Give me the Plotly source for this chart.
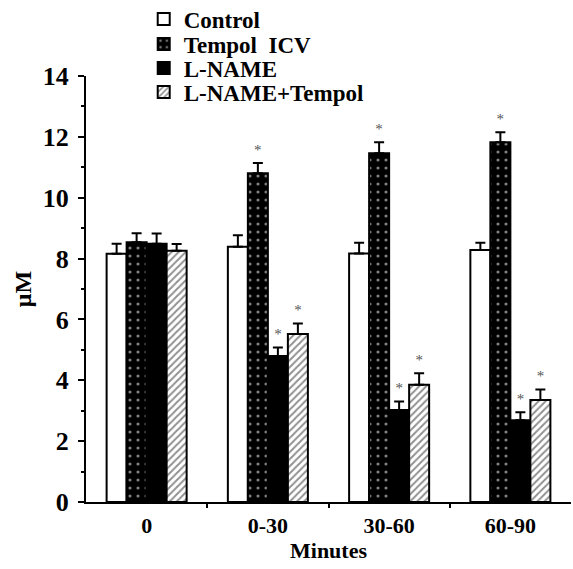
import plotly.graph_objects as go

# ---- data ----
groups = ["0", "0-30", "30-60", "60-90"]
series_names = ["Control", "Tempol  ICV", "L-NAME", "L-NAME+Tempol"]

control = [8.16, 8.39, 8.17, 8.28]
control_err = [0.33, 0.38, 0.35, 0.24]
tempol = [8.54, 10.80, 11.46, 11.82]
tempol_err = [0.29, 0.34, 0.36, 0.33]
lname = [8.49, 4.80, 3.02, 2.69]
lname_err = [0.33, 0.28, 0.28, 0.26]
lname_tempol = [8.26, 5.52, 3.85, 3.35]
lname_tempol_err = [0.22, 0.35, 0.38, 0.35]

control_sig = [False, False, False, False]
tempol_sig = [False, True, True, True]
lname_sig = [False, True, True, True]
lname_tempol_sig = [False, True, True, True]

y_ticks = [0, 2, 4, 6, 8, 10, 12, 14]

# ---- styling ----
FONT = "Liberation Serif"
xpos = list(range(len(groups)))
BAR_W = 0.165
GROUP_LEFT = -0.33
STAR_LIFT = 0.15  # small gap between error cap and star (data units)

styles = [
    dict(color="white", line=dict(color="black", width=2)),
    dict(color="black", line=dict(color="black", width=2),
         pattern=dict(shape=".", fgcolor="white", bgcolor="black", size=8, solidity=0.12)),
    dict(color="black", line=dict(color="black", width=2)),
    dict(color="white", line=dict(color="black", width=2),
         pattern=dict(shape="/", fgcolor="#222222", bgcolor="white", size=5, solidity=0.4)),
]

values = [control, tempol, lname, lname_tempol]
errors = [control_err, tempol_err, lname_err, lname_tempol_err]
sigs = [control_sig, tempol_sig, lname_sig, lname_tempol_sig]
legend_ids = ["legend", "legend2", "legend3", "legend4"]

fig = go.Figure()
for i, (name, vals, errs, st, lg) in enumerate(zip(series_names, values, errors, styles, legend_ids)):
    off = GROUP_LEFT + i * BAR_W
    fig.add_trace(go.Bar(
        x=xpos, y=vals, name=name, width=BAR_W, offset=off,
        marker=st, legend=lg,
        error_y=dict(type="data", array=errs, arrayminus=[0] * len(errs),
                     symmetric=False, color="black", thickness=2, width=5),
    ))

# significance stars
for i, (vals, errs, sg) in enumerate(zip(values, errors, sigs)):
    centre = GROUP_LEFT + i * BAR_W + BAR_W / 2
    sx = [x + centre for x, s in zip(xpos, sg) if s]
    sy = [v + e + STAR_LIFT for v, e, s in zip(vals, errs, sg) if s]
    if sx:
        fig.add_trace(go.Scatter(
            x=sx, y=sy, mode="text", text=["*"] * len(sx),
            textposition="top center", showlegend=False, hoverinfo="skip",
            textfont=dict(family=FONT, size=15, color="#555555"),
        ))

fig.update_layout(
    width=573, height=569,
    margin=dict(l=86, r=2, t=76, b=67, autoexpand=False),
    paper_bgcolor="white", plot_bgcolor="white",
    barmode="overlay", hovermode=False,
    font=dict(family=FONT, color="black"),
    xaxis=dict(
        range=[-0.5, 3.5], tickmode="array", tickvals=xpos, ticktext=groups,
        showline=True, linecolor="black", linewidth=2, ticks="", showgrid=False,
        zeroline=False, automargin=False, ticklabelstandoff=3,
        tickfont=dict(family=FONT, size=22, color="black", weight="bold"),
        minor=dict(tickmode="array", tickvals=[0.5, 1.5, 2.5], ticks="outside",
                   ticklen=4, tickwidth=2, tickcolor="black"),
        title=dict(text="<b>Minutes</b>", font=dict(family=FONT, size=22, color="black"), standoff=0),
    ),
    yaxis=dict(
        range=[0, 14], tickmode="array", tickvals=y_ticks,
        showline=True, linecolor="black", linewidth=2, ticks="outside",
        ticklen=6, tickwidth=2, tickcolor="black", showgrid=False, zeroline=False,
        automargin=False, ticklabelstandoff=4,
        tickfont=dict(family=FONT, size=26, color="black", weight="bold"),
        minor=dict(tickmode="array", tickvals=[1, 3, 5, 7, 9, 11, 13], ticks="outside",
                   ticklen=3, tickwidth=2, tickcolor="black"),
        title=dict(text="<b>μM</b>", font=dict(family=FONT, size=24, color="black"), standoff=4),
    ),
)

legend_rows_px = [19, 44, 68, 92]
plot_bottom, plot_h = 502, 426
leg_font = dict(family=FONT, size=23, color="black", weight="bold")
for lg, ypx in zip(legend_ids, legend_rows_px):
    fig.update_layout({lg: dict(
        x=0.119, y=(plot_bottom - ypx) / plot_h, xanchor="left", yanchor="middle",
        bgcolor="rgba(0,0,0,0)", borderwidth=0, font=leg_font,
        itemclick=False, itemdoubleclick=False,
    )})

fig.write_html("out.html", config={"displayModeBar": False},
               post_script="document.body.style.margin='0';")
